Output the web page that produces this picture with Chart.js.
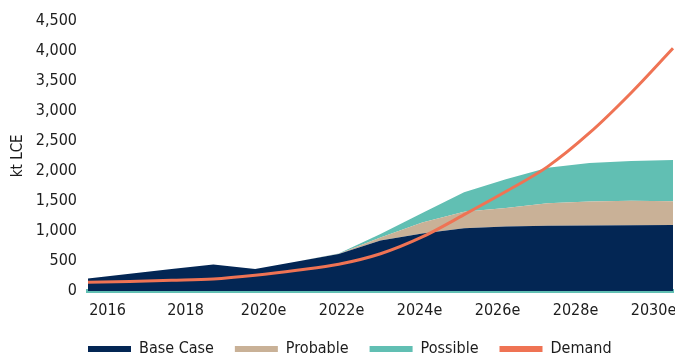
<!DOCTYPE html>
<html>
<head>
<meta charset="utf-8">
<script src="https://cdn.jsdelivr.net/npm/chart.js@4/dist/chart.umd.min.js"></script>
<style>
  html, body { margin: 0; padding: 0; background: #fff; }
  #wrap { width: 675px; height: 354px; }
</style>
</head>
<body>
<div id="wrap"><canvas id="c" width="675" height="354"></canvas></div>
<script>
const years = ['2016','2017','2018','2019','2020e','2021e','2022e','2023e','2024e','2025e','2026e','2027e','2028e','2029e','2030e'];
const tickLabels = ['2016','','2018','','2020e','','2022e','','2024e','','2026e','','2028e','','2030e'];
const baseCase = [210, 285, 365, 440, 365, 490, 615, 840, 955, 1045, 1075, 1085, 1090, 1095, 1100];
const probable = [0, 0, 0, 0, 0, 0, 5, 50, 185, 275, 305, 375, 400, 405, 395];
const possible = [0, 0, 0, 0, 0, 0, 5, 60, 160, 325, 480, 590, 640, 665, 685];
const demand = [145, 160, 178, 200, 262, 345, 445, 620, 900, 1270, 1655, 2070, 2630, 3300, 4040];
const yTicks = [0, 500, 1000, 1500, 2000, 2500, 3000, 3500, 4000, 4500];

const FONT = "'DejaVu Sans Condensed', 'DejaVu Sans', sans-serif";
const TXT = '#1c1c1c';
const C_BASE = '#032654', C_PROB = '#C9B197', C_POSS = '#61BFB3', C_DEM = '#EF7354';

const legendShift = {
  id: 'legendShift',
  afterLayout(chart) {
    const lg = chart.legend;
    if (!lg) return;
    const pad = lg.options.labels.padding;
    const dx = chart.chartArea.left - (lg.left + pad);
    lg.left += dx; lg.right += dx;
  }
};

const chart = new Chart(document.getElementById('c'), {
  type: 'line',
  data: {
    labels: years,
    datasets: [
      { label: 'Base Case', data: baseCase, backgroundColor: C_BASE, borderColor: C_BASE, borderWidth: 0, fill: 'origin', pointRadius: 0, tension: 0, stack: 'supply', order: 1 },
      { label: 'Probable', data: probable, backgroundColor: C_PROB, borderColor: C_PROB, borderWidth: 0, fill: '-1', pointRadius: 0, tension: 0, stack: 'supply', order: 1 },
      { label: 'Possible', data: possible, backgroundColor: C_POSS, borderColor: C_POSS, borderWidth: 0, fill: '-1', pointRadius: 0, tension: 0, stack: 'supply', order: 1 },
      { label: 'Demand', data: demand, borderColor: C_DEM, backgroundColor: C_DEM, borderWidth: 3, fill: false, pointRadius: 0, cubicInterpolationMode: 'monotone', stack: 'demand', order: 0 }
    ]
  },
  plugins: [legendShift],
  options: {
    responsive: false,
    animation: false,
    layout: { padding: { top: 13, right: 2, left: 4, bottom: -13 } },
    scales: {
      x: {
        type: 'category', display: false, offset: false
      },
      xt: {
        type: 'category', position: 'bottom', offset: true,
        grid: { display: false, drawTicks: false },
        border: { display: true, color: C_POSS, width: 4 },
        ticks: {
          autoSkip: false, maxRotation: 0, padding: 10, color: TXT,
          font: { family: FONT, size: 16 },
          callback: (v, i) => tickLabels[i]
        },
        afterFit: (s) => { s.height = 29; s.paddingLeft = 0; s.paddingRight = 0; }
      },
      y: {
        stacked: true, min: 0, max: 4500,
        grid: { display: false, drawTicks: false },
        border: { display: false },
        afterBuildTicks: (s) => { s.ticks = yTicks.map(v => ({ value: v })); },
        afterFit: (s) => { s.width = 84; },
        ticks: { padding: 11, color: TXT, font: { family: FONT, size: 16 } },
        title: { display: true, text: 'kt LCE', color: TXT, font: { family: FONT, size: 15 }, padding: { top: 5, bottom: 0 } }
      }
    },
    plugins: {
      tooltip: { enabled: false },
      legend: {
        position: 'bottom', align: 'start',
        labels: {
          boxWidth: 43, boxHeight: 6, padding: 21, color: TXT,
          font: { family: FONT, size: 16 },
          sort: (a, b) => a.datasetIndex - b.datasetIndex,
          generateLabels: (chart) => chart.data.datasets.map((d, i) => ({
            text: d.label, fillStyle: d.borderColor, strokeStyle: d.borderColor, lineWidth: 0, hidden: false, datasetIndex: i, fontColor: TXT
          }))
        }
      }
    }
  }
});
</script>
</body>
</html>
